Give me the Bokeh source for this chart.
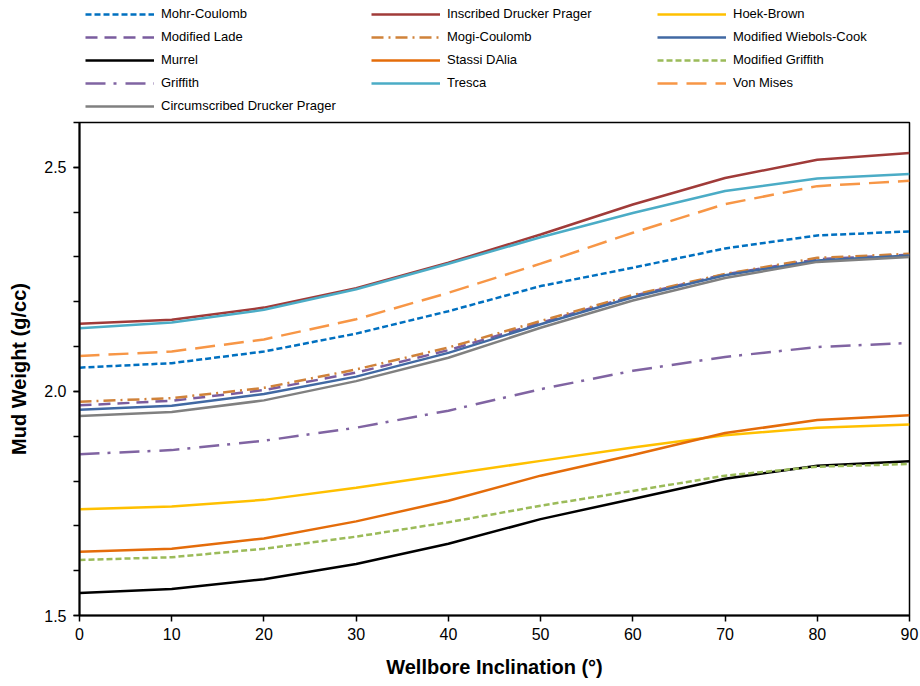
from bokeh.plotting import figure
from bokeh.layouts import column
from bokeh.models import Legend, LegendItem, SingleIntervalTicker, PrintfTickFormatter, Range1d
from bokeh.embed import file_html
from bokeh.resources import INLINE

inclination = [0, 10, 20, 30, 40, 50, 60, 70, 80, 90]

mohr_coulomb = [2.053, 2.063, 2.089, 2.129, 2.179, 2.235, 2.276, 2.319, 2.348, 2.357]
inscribed_dp = [2.151, 2.160, 2.187, 2.230, 2.287, 2.350, 2.417, 2.476, 2.517, 2.532]
hoek_brown = [1.737, 1.743, 1.758, 1.785, 1.815, 1.845, 1.875, 1.902, 1.919, 1.926]
modified_lade = [1.969, 1.979, 2.003, 2.042, 2.092, 2.153, 2.213, 2.261, 2.295, 2.305]
mogi_coulomb = [1.977, 1.985, 2.008, 2.049, 2.098, 2.157, 2.215, 2.262, 2.298, 2.307]
mod_wiebols_cook = [1.959, 1.968, 1.994, 2.033, 2.086, 2.150, 2.210, 2.259, 2.292, 2.303]
murrel = [1.550, 1.559, 1.581, 1.615, 1.660, 1.715, 1.760, 1.805, 1.834, 1.844]
stassi_dalia = [1.642, 1.649, 1.672, 1.710, 1.756, 1.812, 1.858, 1.907, 1.936, 1.947]
mod_griffith = [1.624, 1.630, 1.649, 1.676, 1.708, 1.745, 1.778, 1.812, 1.832, 1.838]
griffith = [1.860, 1.869, 1.890, 1.919, 1.957, 2.005, 2.046, 2.077, 2.099, 2.108]
tresca = [2.141, 2.154, 2.182, 2.228, 2.285, 2.344, 2.398, 2.447, 2.475, 2.485]
von_mises = [2.079, 2.089, 2.116, 2.161, 2.220, 2.285, 2.354, 2.418, 2.458, 2.470]
circumscribed_dp = [1.945, 1.954, 1.980, 2.023, 2.075, 2.142, 2.203, 2.253, 2.289, 2.300]

series = [
    ("Mohr-Coulomb", mohr_coulomb, "#0070C0", "6 3"),
    ("Inscribed Drucker Prager", inscribed_dp, "#A03B39", "solid"),
    ("Hoek-Brown", hoek_brown, "#FFC000", "solid"),
    ("Modified Lade", modified_lade, "#7A5C9E", "12 7"),
    ("Mogi-Coulomb", mogi_coulomb, "#D0823A", "12 5 2 5"),
    ("Modified Wiebols-Cook", mod_wiebols_cook, "#4169A3", "solid"),
    ("Murrel", murrel, "#000000", "solid"),
    ("Stassi DAlia", stassi_dalia, "#E46C0A", "solid"),
    ("Modified Griffith", mod_griffith, "#9BBB59", "6 3"),
    ("Griffith", griffith, "#8064A2", "20 8 3 9"),
    ("Tresca", tresca, "#4BACC6", "solid"),
    ("Von Mises", von_mises, "#F79646", "20 9"),
    ("Circumscribed Drucker Prager", circumscribed_dp, "#808080", "solid"),
]

FONT = "Liberation Sans"

# legend strip above the chart (its series lie outside its y range, only the keys show)
top = figure(width=920, height=121, output_backend="svg", toolbar_location=None,
             x_range=Range1d(0, 90), y_range=Range1d(0, 1),
             x_axis_type=None, y_axis_type=None,
             min_border_left=0, min_border_right=0, min_border_top=0, min_border_bottom=0)
top.outline_line_color = None
top.grid.visible = False
top.background_fill_color = "white"
top.border_fill_color = "white"

# main chart
p = figure(width=920, height=565, output_backend="svg", toolbar_location=None,
           x_range=Range1d(0, 90), y_range=Range1d(1.5, 2.6),
           min_border_left=79, min_border_right=11, min_border_top=1,
           min_border_bottom=71)
p.background_fill_color = "white"
p.border_fill_color = "white"
p.outline_line_color = "#000000"
p.outline_line_width = 1.5
p.grid.visible = False

items = []
for name, vals, color, dash in series:
    p.line(inclination, vals, line_color=color, line_width=2.5, line_dash=dash)
    key = top.line(inclination, vals, line_color=color, line_width=2.5, line_dash=dash)
    items.append(LegendItem(label=name, renderers=[key]))

legend = Legend(items=items, location=(6, 8), orientation="horizontal", ncols=3,
                glyph_width=69, glyph_height=12, label_height=12, label_width=202,
                label_standoff=7, spacing=8, padding=0, margin=0,
                border_line_color=None, background_fill_alpha=0,
                label_text_font=FONT, label_text_font_size="13px",
                label_text_color="#000000")
top.add_layout(legend)

p.xaxis.ticker = SingleIntervalTicker(interval=10, num_minor_ticks=0)
p.yaxis.ticker = SingleIntervalTicker(interval=0.5, num_minor_ticks=5)
p.yaxis.formatter = PrintfTickFormatter(format="%.1f")

for ax in (p.xaxis, p.yaxis):
    ax.axis_line_color = "black"
    ax.axis_line_width = 2
    ax.major_tick_line_color = "black"
    ax.major_tick_line_width = 1.5
    ax.major_tick_out = 6
    ax.major_tick_in = 0
    ax.major_label_text_font = FONT
    ax.major_label_text_font_size = "16px"
    ax.major_label_text_color = "black"
    ax.axis_label_text_font = FONT
    ax.axis_label_text_font_size = "20px"
    ax.axis_label_text_font_style = "bold"
    ax.axis_label_text_color = "black"

p.xaxis.minor_tick_line_color = None
p.yaxis.minor_tick_line_color = "black"
p.yaxis.minor_tick_line_width = 1.5
p.yaxis.minor_tick_out = 6
p.yaxis.minor_tick_in = 0

p.xaxis.axis_label = "Wellbore Inclination (°)"
p.yaxis.axis_label = "Mud Weight (g/cc)"
p.xaxis.major_label_standoff = 6
p.xaxis.axis_label_standoff = 13
p.yaxis.major_label_standoff = 7
p.yaxis.axis_label_standoff = 11

layout = column(top, p, spacing=0)
open("out.html", "w").write(file_html(layout, INLINE))
